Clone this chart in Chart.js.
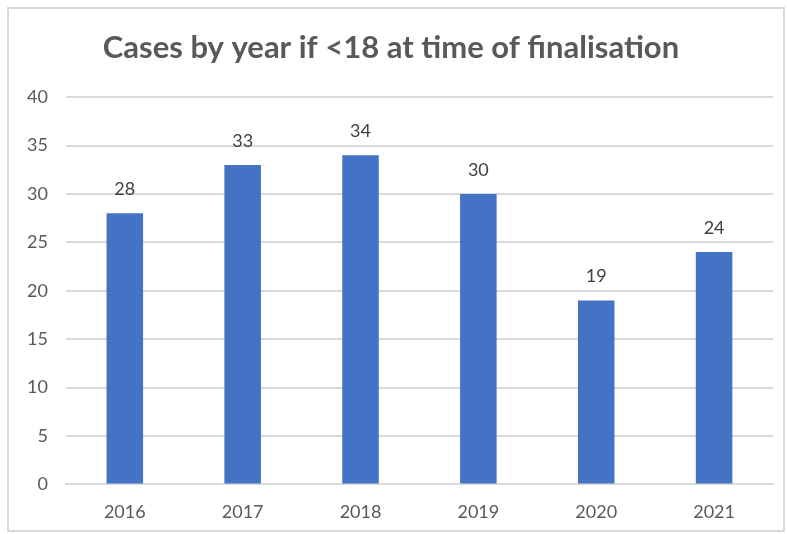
<!DOCTYPE html>
<html>
<head>
<meta charset="utf-8">
<script src="https://cdn.jsdelivr.net/npm/chart.js@4/dist/chart.umd.min.js"></script>
<style>
  body { margin: 0; background: #fff; }
  #wrap { position: relative; width: 787px; height: 534px; overflow: hidden; }
  #frame { position: absolute; left: 7px; top: 7px; width: 774px; height: 521px; border: 2px solid #d9d9d9; }
  canvas { position: absolute; left: 0; top: 0; }
</style>
</head>
<body>
<div id="wrap">
  <div id="frame"></div>
  <canvas id="myChart" width="787" height="540"></canvas>
</div>
<script>
// dati
var years = ['2016', '2017', '2018', '2019', '2020', '2021'];
var cases = [28, 33, 34, 30, 19, 24];
var chartTitle = 'Cases by year if <18 at time of finalisation';

var fontName = "Lato, 'Open Sans', sans-serif";

// etichette sopra le barre
var barLabels = {
  id: 'barLabels',
  afterDatasetsDraw(chart) {
    const ctx = chart.ctx;
    ctx.save();
    ctx.font = '18px ' + fontName;
    ctx.fillStyle = '#404040';
    ctx.textAlign = 'center';
    ctx.textBaseline = 'middle';
    chart.getDatasetMeta(0).data.forEach((bar, i) => {
      ctx.fillText(cases[i], bar.x, bar.y - 24);
    });
    ctx.restore();
  }
};

const ctx = document.getElementById('myChart').getContext('2d');
var myChart = new Chart(ctx, {
  type: 'bar',
  data: {
    labels: years,
    datasets: [{
      label: 'Cases',
      data: cases,
      backgroundColor: '#4472c4',
      categoryPercentage: 1,
      barPercentage: 0.31
    }]
  },
  options: {
    responsive: false,
    animation: false,
    layout: { padding: { left: 9, right: 14, top: 0, bottom: 0 } },
    scales: {
      x: {
        grid: { display: false, drawTicks: false },
        border: { color: '#d9d9d9', width: 2 },
        ticks: { color: '#595959', font: { family: fontName, size: 18 }, padding: 17 }
      },
      y: {
        min: 0,
        max: 40,
        ticks: { stepSize: 5, color: '#595959', font: { family: fontName, size: 18 }, padding: 18 },
        grid: { color: '#d9d9d9', lineWidth: 2, drawTicks: false },
        border: { display: false }
      }
    },
    plugins: {
      legend: { display: false },
      tooltip: { enabled: false },
      title: {
        display: true,
        text: chartTitle,
        color: '#595959',
        font: { family: fontName, size: 31, weight: 'bold' },
        padding: { top: 29, bottom: 31 }
      }
    }
  },
  plugins: [barLabels]
});
</script>
</body>
</html>
